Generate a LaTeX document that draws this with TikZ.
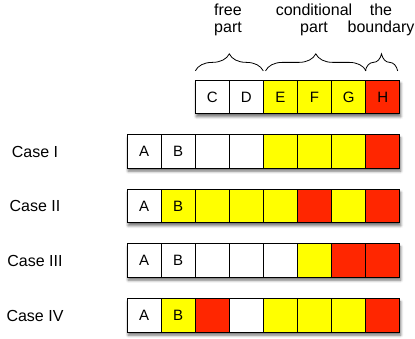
\documentclass[tikz,border=0pt]{standalone}
\usepackage{fontspec}
\setmainfont{Liberation Sans}
\usetikzlibrary{decorations.pathreplacing,shadows.blur}
\definecolor{cy}{RGB}{255,255,0}
\definecolor{cr}{RGB}{255,38,0}
\tikzset{
  cell/.style={draw=black, line width=0.75pt, minimum width=34.1pt, minimum height=33.5pt,
    inner sep=0pt, font=\fontsize{15}{17}\selectfont, anchor=center},
  rowbg/.style={fill=white, minimum height=33.5pt, inner sep=0pt,
    blur shadow={shadow xshift=1pt, shadow yshift=-3pt, shadow blur radius=2.5pt, shadow opacity=55}},
  lbl/.style={font=\fontsize{16}{17.5}\selectfont, align=center, inner sep=0pt},
  brc/.style={decorate, decoration={brace, amplitude=17pt}, line width=0.8pt}
}
\begin{document}
\begin{tikzpicture}[x=1pt,y=-1pt]
\useasboundingbox (0,0) rectangle (415,339);
% top row
\node[rowbg, minimum width=204.6pt] (toprow) at (297.5,97) {};
\foreach \nm/\c [count=\i from 3] in {C/white,D/white,E/cy,F/cy,G/cy,H/cr}{
  \node[cell, fill=\c] (\nm) at ({127+34.1*(\i-0.5)},97) {\nm};
}
% case rows
\foreach \r/\yy/\cl in {1/151.5/{white,white,white,white,cy,cy,cy,cr},
                        2/206/{white,cy,cy,cy,cy,cr,cy,cr},
                        3/260.5/{white,white,white,white,white,cy,cr,cr},
                        4/315.5/{white,cy,cr,white,cy,cy,cy,cr}}{
  \node[rowbg, minimum width=272.8pt] (row\r) at (263.4,\yy) {};
  \foreach \c [count=\i] in \cl {
    \node[cell, fill=\c] (r\r c\i) at ({127+34.1*(\i-0.5)},\yy) {\ifnum\i=1 A\fi\ifnum\i=2 B\fi};
  }
}
% case labels
\node[lbl] (case1) at (35,151.5) {Case I};
\node[lbl] (case2) at (35,206) {Case II};
\node[lbl] (case3) at (35,260.5) {Case III};
\node[lbl] (case4) at (35,315.5) {Case IV};
% top labels
\node[lbl] (free) at (228,20) {free\\part};
\node[lbl] (cond) at (314,20) {conditional\\part};
\node[lbl] (bound) at (381,20) {the\\boundary};
% braces
\draw[brc] ([shift={(0.5pt,9pt)}]C.north west) -- ([shift={(-0.5pt,9pt)}]D.north east);
\draw[brc] ([shift={(2.5pt,9pt)}]E.north west) -- ([shift={(0pt,9pt)}]G.north east);
\draw[brc] ([shift={(0pt,9pt)}]H.north west) -- ([shift={(-2.5pt,9pt)}]H.north east);
\end{tikzpicture}
\end{document}
